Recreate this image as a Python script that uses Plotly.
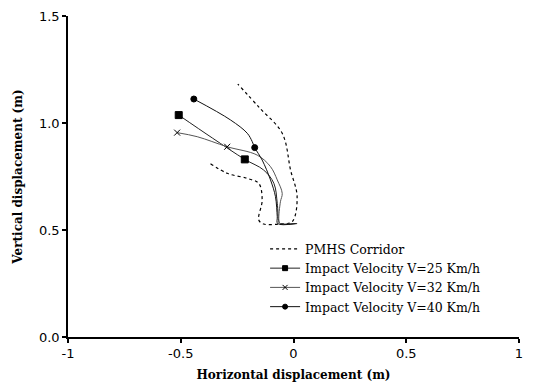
import plotly.graph_objects as go

# PMHS corridor (dotted)
corr_x = [-0.368, -0.294, -0.205, -0.154, -0.139, -0.154, -0.132, -0.06, -0.006, 0.016, -0.013, -0.050, -0.15, -0.247]
corr_y = [0.81, 0.765, 0.741, 0.718, 0.64, 0.547, 0.528, 0.528, 0.539, 0.656, 0.78, 0.952, 1.07, 1.182]

v25_x = [-0.509, -0.36, -0.216, -0.132, -0.087, -0.072, -0.065, -0.06, 0.016]
v25_y = [1.037, 0.93, 0.830, 0.78, 0.718, 0.625, 0.539, 0.53, 0.53]
v25_mx = [-0.509, -0.216]
v25_my = [1.037, 0.830]

v32_x = [-0.516, -0.427, -0.294, -0.161, -0.102, -0.072, -0.05, -0.058, -0.065, -0.06, 0.0]
v32_y = [0.955, 0.936, 0.889, 0.850, 0.796, 0.734, 0.671, 0.632, 0.547, 0.53, 0.53]
v32_mx = [-0.516, -0.294]
v32_my = [0.955, 0.889]

v40_x = [-0.442, -0.279, -0.205, -0.183, -0.172, -0.139, -0.102, -0.08, -0.072, -0.07, 0.01]
v40_y = [1.112, 1.014, 0.952, 0.913, 0.885, 0.827, 0.734, 0.656, 0.562, 0.53, 0.53]
v40_mx = [-0.442, -0.172]
v40_my = [1.112, 0.885]

x_ticks = [-1, -0.5, 0, 0.5, 1]
x_tick_text = ["-1", "-0.5", "0", "0.5", "1"]
y_ticks = [0.0, 0.5, 1.0, 1.5]
y_tick_text = ["0.0", "0.5", "1.0", "1.5"]

fig = go.Figure()

fig.add_trace(go.Scatter(x=corr_x, y=corr_y, mode="lines", name="PMHS Corridor",
                         line=dict(color="black", width=1.2, dash="dot", shape="spline")))

series = [
    ("Impact Velocity V=25 Km/h", v25_x, v25_y, v25_mx, v25_my, "square", 7, "#222222"),
    ("Impact Velocity V=32 Km/h", v32_x, v32_y, v32_mx, v32_my, "x-thin-open", 6, "#555555"),
    ("Impact Velocity V=40 Km/h", v40_x, v40_y, v40_mx, v40_my, "circle", 6, "#111111"),
]
for name, xs, ys, mx, my, sym, sz, col in series:
    fig.add_trace(go.Scatter(x=xs, y=ys, mode="lines", showlegend=False,
                             line=dict(color=col, width=1, shape="spline")))
    fig.add_trace(go.Scatter(x=mx, y=my, mode="markers", showlegend=False,
                             marker=dict(symbol=sym, size=sz, color="black",
                                         line=dict(color="black", width=1))))
    fig.add_trace(go.Scatter(x=[None], y=[None], mode="lines+markers", name=name,
                             line=dict(color=col, width=1),
                             marker=dict(symbol=sym, size=5, color="black",
                                         line=dict(color="black", width=1))))

fig.update_layout(
    width=533, height=389,
    margin=dict(l=60, r=22, t=8, b=60),
    paper_bgcolor="white", plot_bgcolor="white",
    showlegend=True,
    legend=dict(x=0.437, y=0.32, xanchor="left", yanchor="top",
                bgcolor="rgba(0,0,0,0)", tracegroupgap=0,
                font=dict(family="DejaVu Serif", size=12.5, color="black")),
    xaxis=dict(range=[-1, 1], tickvals=x_ticks, ticktext=x_tick_text, automargin=False,
               showgrid=False, zeroline=False, showline=True, linecolor="black", linewidth=1.5,
               ticks="outside", ticklen=4, tickcolor="black", tickwidth=1.5,
               tickfont=dict(family="DejaVu Sans", size=13, color="black"),
               title=dict(text="<b>Horizontal displacement (m)</b>", standoff=10,
                          font=dict(family="DejaVu Serif", size=12, color="black"))),
    yaxis=dict(range=[0, 1.5], tickvals=y_ticks, ticktext=y_tick_text, automargin=False,
               showgrid=False, zeroline=False, showline=True, linecolor="black", linewidth=1.5,
               ticks="outside", ticklen=4, tickcolor="black", tickwidth=1.5,
               tickfont=dict(family="DejaVu Sans", size=13, color="black"),
               title=dict(text="<b>Vertical displacement (m)</b>", standoff=14,
                          font=dict(family="DejaVu Serif", size=12, color="black"))),
)

fig.write_html("out.html")
